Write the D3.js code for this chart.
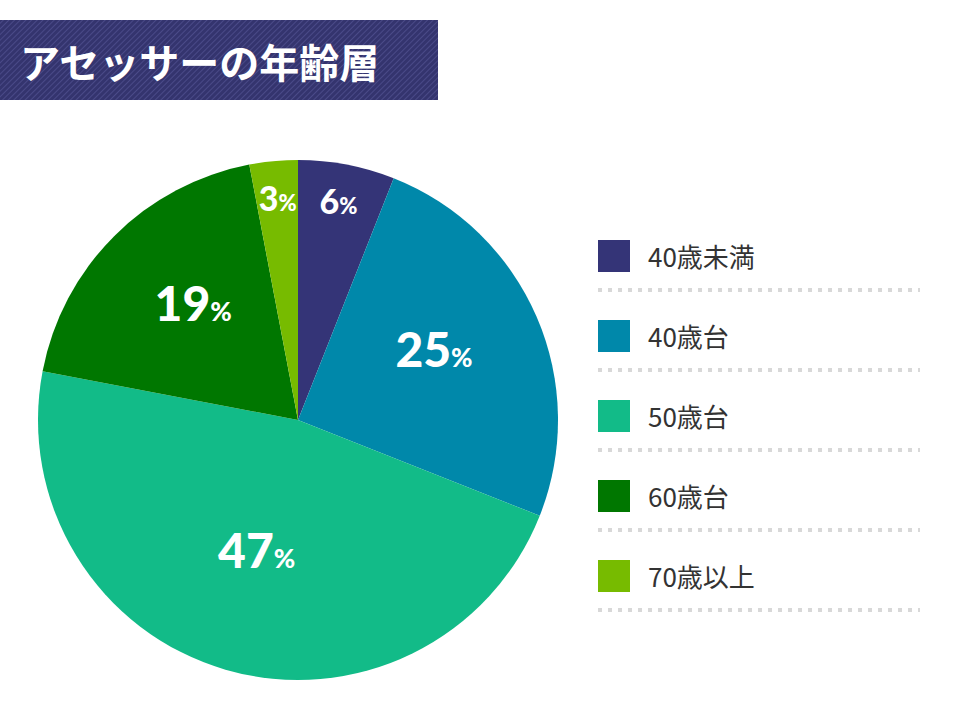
<!DOCTYPE html>
<html><head><meta charset="utf-8">
<script src="https://cdn.jsdelivr.net/npm/d3@7"></script>
<style>body{margin:0;background:#fff}</style>
</head><body><div id="vis"></div>
<script>
const categories = ["40歳未満", "40歳台", "50歳台", "60歳台", "70歳以上"];
const values = [6, 25, 47, 19, 3];
const colors = ["#343477", "#0088aa", "#12bb88", "#007700", "#77bb00"];

const W = 960, H = 720;
const CX = 298, CY = 420, R = 260;

const svg = d3.select("#vis").append("svg").attr("width", W).attr("height", H);

// title block with diagonal stripes
const defs = svg.append("defs");
const pat = defs.append("pattern").attr("id", "stripe").attr("width", 4).attr("height", 4)
  .attr("patternUnits", "userSpaceOnUse").attr("patternTransform", "rotate(45)");
pat.append("rect").attr("width", 4).attr("height", 4).attr("fill", "#34346e");
pat.append("rect").attr("width", 1).attr("height", 4).attr("fill", "#4a4a88");
svg.append("rect").attr("x", 0).attr("y", 20).attr("width", 438).attr("height", 80).attr("fill", "url(#stripe)");
svg.append("text").attr("x", 20).attr("y", 78).attr("fill", "#fff")
  .attr("font-family", "Noto Sans CJK JP").attr("font-weight", "bold").attr("font-size", 40)
  .text("アセッサーの年齢層");

const pie = d3.pie().sort(null).value(d => d)(values);
const arc = d3.arc().innerRadius(0).outerRadius(R);
const g = svg.append("g").attr("transform", `translate(${CX},${CY})`);
g.selectAll("path").data(pie).enter().append("path")
  .attr("d", arc).attr("fill", (d, i) => colors[i]);

const lbl = g.selectAll(".lbl").data(pie).enter().append("text")
  .attr("class", "lbl")
  .attr("transform", d => {
    const r = d.data < 10 ? R * 0.83 : R * 0.57;
    const a = (d.startAngle + d.endAngle) / 2;
    return `translate(${Math.sin(a) * r},${-Math.cos(a) * r})`;
  })
  .attr("text-anchor", "middle").attr("dy", "0.35em")
  .attr("fill", "#fff").attr("font-family", "Lato").attr("font-weight", 900);
lbl.append("tspan").attr("font-size", d => d.data < 10 ? 34 : 48).text(d => d.data);
lbl.append("tspan").attr("font-size", d => d.data < 10 ? 22 : 26).text("%");

// legend
const leg = svg.append("g");
const item = leg.selectAll("g").data(categories).enter().append("g")
  .attr("transform", (d, i) => `translate(598,${240 + i * 80})`);
item.append("rect").attr("width", 32).attr("height", 32).attr("fill", (d, i) => colors[i]);
item.append("text").attr("x", 50).attr("y", 27).attr("font-family", "Noto Sans CJK JP")
  .attr("font-size", 26).attr("fill", "#333").text(d => d);
item.append("line").attr("x1", 0).attr("x2", 322).attr("y1", 50).attr("y2", 50)
  .attr("stroke", "#d8d8d8").attr("stroke-width", 4).attr("stroke-dasharray", "4 6");
</script></body></html>
